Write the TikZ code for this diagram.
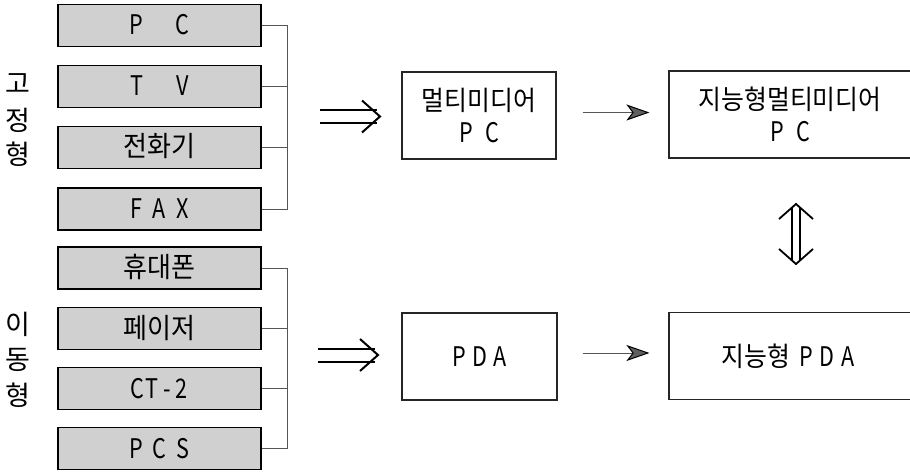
\documentclass[tikz,border=0pt]{standalone}
\usepackage{fontspec}
\usetikzlibrary{arrows.meta}
\newfontfamily\krwide{Noto Sans CJK KR}
\newfontfamily\krbig[FakeStretch=0.93]{Noto Sans CJK KR}
\newfontfamily\krmid[FakeStretch=0.92]{Noto Sans CJK KR}
\newfontfamily\latn[FakeStretch=0.8]{Noto Sans CJK KR}
\definecolor{boxgray}{RGB}{208,208,208}
\definecolor{linegray}{RGB}{85,85,85}
\definecolor{tipgray}{RGB}{95,95,95}
% fixed-pitch letter cells
\newcommand\gcell[1]{\makebox[23pt]{#1}}
\newcommand\pcell[1]{\makebox[26pt]{#1}}
\newcommand\dcell[1]{\makebox[20.5pt]{#1}}
\newcommand\bigkr{\krbig\fontsize{28}{28}\selectfont}
\newcommand\latL{\latn\fontsize{27}{27}\selectfont}
\newcommand\midkr{\krmid\fontsize{27}{27}\selectfont}
\newcommand\latR{\latn\fontsize{27}{27}\selectfont}

\tikzset{
  devbox/.style={draw=black, line width=1.4pt, fill=boxgray,
    minimum width=203pt, minimum height=42pt, inner sep=0pt,
    text height=19pt, text depth=0pt},
  outbox/.style={draw=black!85, line width=1.1pt, inner sep=0pt,
    minimum height=87pt, align=center},
  sidechar/.style={inner sep=0pt, font=\krwide\fontsize{27}{27}\selectfont},
  bus/.style={draw=linegray, line width=0.9pt},
  flow/.style={draw=linegray, line width=0.9pt,
    -{Stealth[length=23pt, width=16pt, inset=6pt, fill=tipgray, color=black, line width=1pt]}},
  implies/.pic={
    \draw[line width=2pt] (0,-6.5) -- (57,-6.5) (0,6.5) -- (57,6.5);
    \draw[line width=2pt, line join=miter] (42,-16) -- (60,0) -- (42,16);
  },
  updown/.pic={
    \draw[line width=1.8pt] (-4,-27) -- (-4,27) (4,-27) -- (4,27);
    \draw[line width=1.8pt, line join=miter] (-17,-15) -- (0,-30) -- (17,-15);
    \draw[line width=1.8pt, line join=miter] (-17,15) -- (0,30) -- (17,15);
  }
}

\begin{document}
\begin{tikzpicture}[x=1pt, y=-1pt]
\useasboundingbox (0,0) rectangle (910,473);

% fixed devices
\node[devbox] (pc)   at (159.5,25.5)  {\latL\gcell{P}\gcell{}\gcell{C}};
\node[devbox] (tv)   at (159.5,86.5)  {\latL\gcell{T}\gcell{}\gcell{V}};
\node[devbox] (tel)  at (159.5,147.5) {\bigkr 전화기};
\node[devbox] (fax)  at (159.5,209)   {\latL\gcell{F}\gcell{A}\gcell{X}};

% mobile devices
\node[devbox] (cell) at (159.5,268)   {\bigkr 휴대폰};
\node[devbox] (pgr)  at (159.5,328.5) {\bigkr 페이저};
\node[devbox] (ct)   at (159.5,388.5) {\latL\makebox[15pt]{C}\makebox[15pt]{T}\makebox[15pt]{-}\makebox[15pt]{2}};
\node[devbox] (pcs)  at (159.5,448.5) {\latL\gcell{P}\gcell{C}\gcell{S}};

% group captions
\node[sidechar] (g1) at (18,84)  {고};
\node[sidechar] (g2) at (18,120) {정};
\node[sidechar] (g3) at (18,154) {형};
\node[sidechar] (m1) at (18,324) {이};
\node[sidechar] (m2) at (18,360) {동};
\node[sidechar] (m3) at (18,395) {형};

% brackets joining each group
\coordinate (busx) at (287,0);
\draw[bus] (pc.east) -- (pc.east -| busx) -- (fax.east -| busx) -- (fax.east);
\draw[bus] (tv.east) -- (tv.east -| busx);
\draw[bus] (tel.east) -- (tel.east -| busx);
\draw[bus] (cell.east) -- (cell.east -| busx) -- (pcs.east -| busx) -- (pcs.east);
\draw[bus] (pgr.east) -- (pgr.east -| busx);
\draw[bus] (ct.east) -- (ct.east -| busx);

% result boxes
\node[outbox, minimum width=154pt] (mm) at (479,115.5)
  {{\midkr 멀티미디어}\\[9pt]{\latR\pcell{P}\pcell{C}}};
\node[outbox, minimum width=155pt] (pda) at (479.5,356.5)
  {\latR\dcell{P}\dcell{D}\dcell{A}};
\node[outbox, minimum width=242pt] (imm) at (790,114.5)
  {{\midkr 지능형멀티미디어}\\[9pt]{\latR\pcell{P}\pcell{C}}};
\node[outbox, minimum width=242pt] (ipda) at (790,356)
  {{\midkr 지능형}\hspace{6pt}{\latR\dcell{P}\dcell{D}\dcell{A}}};

% transitions
\pic at (320,116.5) {implies};
\pic at (318,355) {implies};
\pic at (796,234) {updown};

\coordinate (f1) at ([xshift=26pt, yshift=3pt]mm.east);
\draw[flow, shorten >=19pt] (f1) -- (f1 -| imm.west);
\coordinate (f2) at ([xshift=25pt, yshift=3.5pt]pda.east);
\draw[flow, shorten >=19pt] (f2) -- (f2 -| ipda.west);
\end{tikzpicture}
\end{document}
